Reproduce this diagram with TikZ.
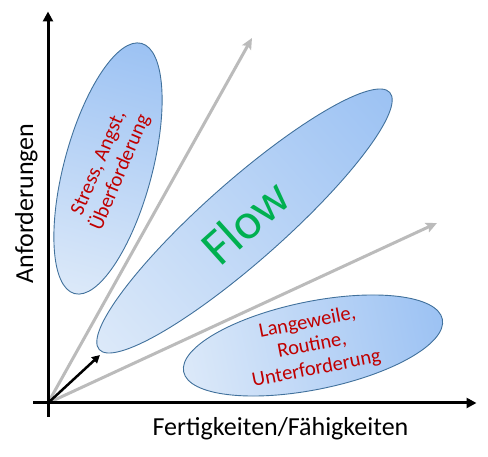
\documentclass[tikz,border=0pt]{standalone}
\usepackage{fontspec}
\setmainfont{Carlito}
\usetikzlibrary{arrows.meta}
\definecolor{elight}{HTML}{DCE9F9}
\definecolor{edark}{HTML}{9CC2F3}
\definecolor{eborder}{HTML}{41719C}
\definecolor{txtred}{HTML}{C00000}
\definecolor{txtgreen}{HTML}{00B050}
\definecolor{arrgray}{HTML}{BBBBBB}
\tikzset{
  axisline/.style={line width=3pt, -{Triangle[length=10pt,width=10pt]}},
  grayarrow/.style={arrgray, line width=3pt, -{Stealth[length=11pt,width=10pt,inset=2pt]}},
  blackarrow/.style={black, line width=2.5pt, -{Triangle[length=8pt,width=8pt]}},
  blob/.style={left color=elight, right color=edark, draw=eborder, line width=0.9pt},
  redlabel/.style={text=txtred, font=\fontsize{20.5}{23.5}\selectfont, align=center, inner sep=0pt},
  axislabel/.style={font=\fontsize{26}{31}\selectfont, inner sep=0pt},
}
\begin{document}
\begin{tikzpicture}[x=1pt,y=1pt]
\useasboundingbox (0,0) rectangle (488,457);
% ellipses
\begin{scope}[transform canvas={shift={(108,288.5)}, rotate=75}]
  \shade[blob] (0,0) ellipse (129.5 and 44);
\end{scope}
\begin{scope}[transform canvas={shift={(244.5,236)}, rotate=41.5}]
  \shade[blob] (0,0) ellipse (194 and 40);
\end{scope}
\begin{scope}[transform canvas={shift={(313,111.5)}, rotate=11.5}]
  \shade[blob] (0,0) ellipse (132 and 44);
\end{scope}
% coordinates
\coordinate (O) at (48,54);
\coordinate (ytop) at (48,445.5);
\coordinate (ybot) at (48,40);
\coordinate (xleft) at (33,54);
\coordinate (xright) at (476.5,54);
\coordinate (g1) at (252,419);
\coordinate (g2) at (437,234);
\coordinate (flowtip) at (100,102);
% arrows
\draw[grayarrow] (O) -- (g1);
\draw[grayarrow] (O) -- (g2);
\draw[blackarrow] (O) -- (flowtip);
\draw[axisline] (ybot) -- (ytop);
\draw[axisline] (xleft) -- (xright);
% labels
\node[redlabel, rotate=67] (stress) at (110,289) {Stress, Angst,\\Überforderung};
\node[redlabel, rotate=11] (lang) at (312,111) {Langeweile,\\Routine,\\Unterforderung};
\node[text=txtgreen, font=\fontsize{51}{60}\selectfont, rotate=42, inner sep=0pt] (flow) at (245,235) {Flow};
\node[axislabel, anchor=base] (xlab) at (280.5,21) {Fertigkeiten/Fähigkeiten};
\node[axislabel, anchor=base, rotate=90] (ylab) at (33,253.5) {Anforderungen};
\end{tikzpicture}
\end{document}
